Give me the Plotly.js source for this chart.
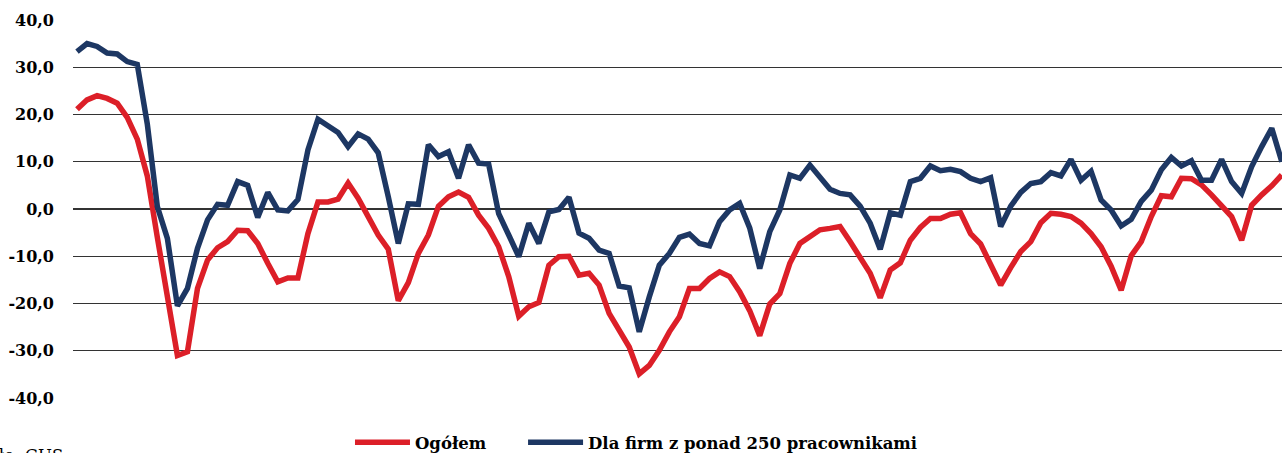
<!DOCTYPE html>
<html>
<head>
<meta charset="utf-8">
<script src="https://cdn.plot.ly/plotly-3.0.1.min.js"></script>
<style>
  html, body { margin: 0; padding: 0; background: #fff; overflow: hidden; }
  #chart { width: 1282px; height: 453px; }
</style>
</head>
<body>
<div id="chart"></div>
<script>
// Series names (legend)
const seriesNames = ["Ogółem", "Dla firm z ponad 250 pracownikami"];

// Ogółem (red)
const ogolem = [
  21.1, 23.1, 24.0, 23.4, 22.4, 19.4, 14.8, 7.0, -6.0, -18.0,
  -31.0, -30.2, -16.8, -10.8, -8.2, -6.9, -4.5, -4.6, -7.3, -11.5,
  -15.4, -14.6, -14.6, -5.2, 1.5, 1.5, 2.1, 5.5, 2.3, -1.6,
  -5.5, -8.5, -19.4, -15.6, -9.4, -5.5, 0.6, 2.6, 3.6, 2.5,
  -1.3, -4.1, -8.0, -14.3, -22.7, -20.7, -19.8, -11.9, -10.1, -10.0,
  -14.0, -13.6, -16.1, -22.1, -25.6, -29.2, -34.9, -33.1, -29.9, -26.0,
  -22.8, -16.8, -16.8, -14.7, -13.3, -14.3, -17.5, -21.5, -26.8, -20.1,
  -17.9, -11.5, -7.3, -6.0, -4.4, -4.1, -3.7, -6.9, -10.5, -13.6,
  -18.8, -12.9, -11.4, -6.6, -3.9, -2.0, -2.0, -1.1, -0.8, -5.2,
  -7.4, -11.5, -16.1, -12.4, -9.0, -6.9, -2.9, -0.9, -1.1, -1.6,
  -3.0, -5.2, -8.0, -12.1, -17.2, -9.9, -6.9, -1.6, 2.8, 2.6,
  6.5, 6.4, 5.1, 3.0, 0.8, -1.6, -6.6, 0.8, 3.0, 4.9,
  7.2
];

// Dla firm z ponad 250 pracownikami (navy)
const duzeFirmy = [
  33.3, 35.0, 34.4, 33.0, 32.8, 31.2, 30.6, 18.0, 0.5, -6.2,
  -20.5, -16.8, -8.3, -2.3, 1.0, 0.8, 5.8, 5.0, -1.8, 3.5,
  -0.2, -0.4, 2.0, 12.5, 19.0, 17.6, 16.2, 13.2, 15.9, 14.8,
  11.9, 2.6, -7.3, 1.1, 1.0, 13.6, 11.1, 12.1, 6.5, 13.6,
  9.7, 9.5, -1.0, -5.5, -10.1, -3.0, -7.3, -0.6, -0.1, 2.5,
  -5.1, -6.2, -8.7, -9.4, -16.3, -16.7, -26.0, -18.6, -11.9, -9.4,
  -6.0, -5.3, -7.3, -7.8, -2.7, -0.2, 1.2, -4.0, -12.6, -4.8,
  -0.2, 7.2, 6.5, 9.3, 6.9, 4.2, 3.3, 3.0, 0.6, -3.0,
  -8.5, -0.8, -1.3, 5.8, 6.5, 9.1, 8.1, 8.4, 7.9, 6.5,
  5.8, 6.6, -3.7, 0.6, 3.5, 5.4, 5.8, 7.7, 7.0, 10.5,
  6.1, 8.0, 1.9, -0.2, -3.6, -2.2, 1.6, 4.0, 8.3, 10.9,
  9.1, 10.2, 6.1, 6.1, 10.5, 5.8, 3.3, 9.0, 13.2, 17.1,
  10.0
];

// Y tick values and labels
const yTickVals = [-40, -30, -20, -10, 0, 10, 20, 30, 40];
const yTickLabels = ["-40,0", "-30,0", "-20,0", "-10,0", "0,0", "10,0", "20,0", "30,0", "40,0"];

const sourceText = "Źródło: GUS";

const serif = "DejaVu Serif";

const traces = [
  { y: ogolem, name: seriesNames[0], type: "scatter", mode: "lines",
    line: { color: "#dc1f28", width: 5.5 }, legend: "legend", hoverinfo: "skip" },
  { y: duzeFirmy, name: seriesNames[1], type: "scatter", mode: "lines",
    line: { color: "#1d3763", width: 5.5 }, legend: "legend2", hoverinfo: "skip" }
];

const legendBase = {
  orientation: "h", xref: "container", yref: "paper", xanchor: "left",
  y: -0.164, yanchor: "bottom", itemwidth: 55, bgcolor: "rgba(0,0,0,0)",
  font: { family: serif, size: 16.5, color: "#000000", weight: "bold" }
};

const layout = {
  width: 1282, height: 453,
  margin: { l: 73, r: 0, t: 20, b: 55, autoexpand: false },
  paper_bgcolor: "#ffffff", plot_bgcolor: "#ffffff",
  showlegend: true,
  xaxis: { range: [-0.4, 120.02], showgrid: false, zeroline: false, showline: false, showticklabels: false, ticks: "" },
  yaxis: {
    range: [-40, 40], tickvals: yTickVals, ticktext: yTickLabels,
    showgrid: true, gridcolor: "#333333", gridwidth: 1.4, zeroline: false, showline: false, ticks: "",
    ticklabelstandoff: 18,
    tickfont: { family: serif, size: 16, color: "#000000", weight: "bold" }
  },
  legend: Object.assign({}, legendBase, { x: 0.273 }),
  legend2: Object.assign({}, legendBase, { x: 0.408 }),
  annotations: [
    { text: sourceText, xref: "paper", yref: "paper", x: -0.0065, y: -0.12, xanchor: "right", yanchor: "top",
      showarrow: false, font: { family: serif, size: 16.5, color: "#000000" } }
  ]
};

Plotly.newPlot("chart", traces, layout, { staticPlot: true, displayModeBar: false });
</script>
</body>
</html>
